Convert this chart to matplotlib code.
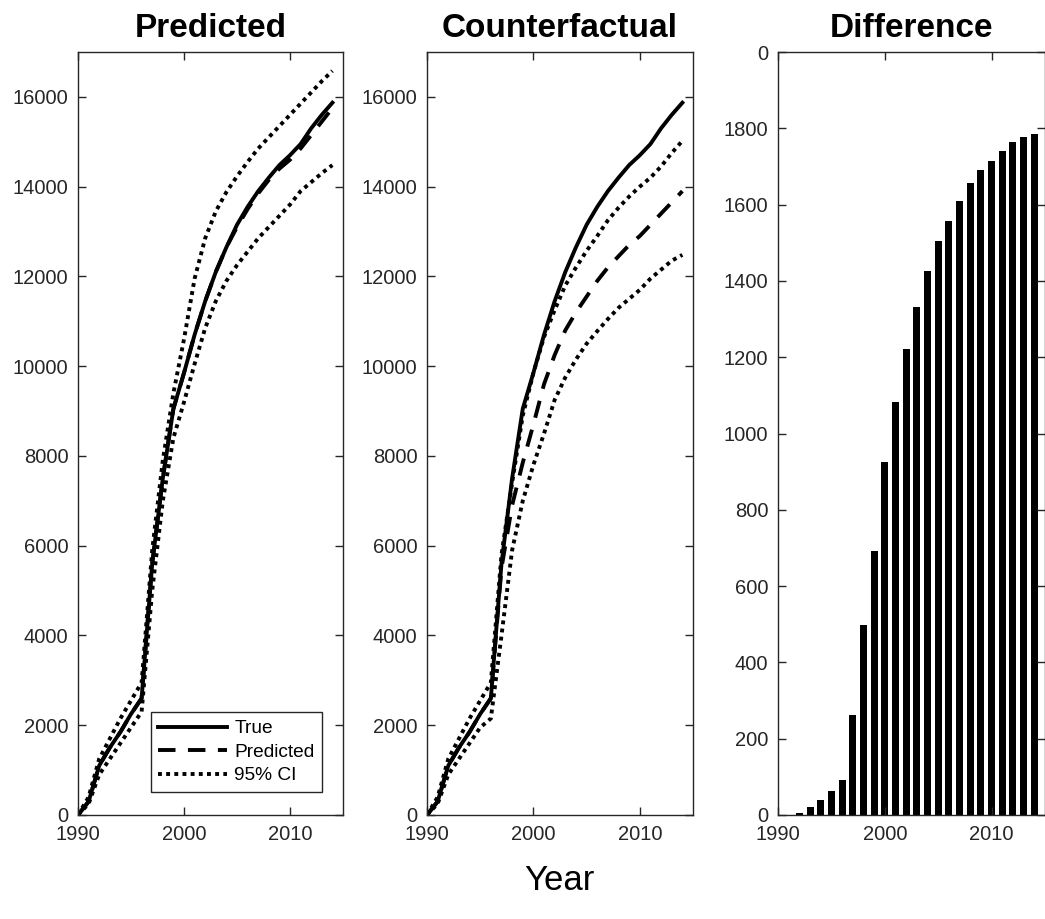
import matplotlib
matplotlib.use("Agg")
import matplotlib.pyplot as plt
import numpy as np

plt.rcParams["font.family"] = ["Liberation Sans", "DejaVu Sans"]

# values
years = list(range(1990, 2015))

true_vals = [0, 300, 1100, 1500, 1850, 2250, 2600, 5600, 7500, 9050, 9850, 10700,
             11450, 12100, 12650, 13150, 13550, 13900, 14200, 14480, 14700, 14950,
             15300, 15600, 15870]

pred_vals = [0, 300, 1100, 1500, 1850, 2250, 2600, 5600, 7500, 9050, 9850, 10700,
             11450, 12100, 12650, 13100, 13500, 13850, 14150, 14400, 14600, 14850,
             15150, 15450, 15750]
pred_upper = [0, 400, 1250, 1700, 2150, 2550, 2950, 5900, 7900, 9400, 10600, 11950,
              12850, 13450, 13880, 14230, 14550, 14850, 15100, 15350, 15600, 15850,
              16100, 16350, 16580]
pred_lower = [0, 250, 900, 1250, 1600, 1950, 2300, 5000, 7000, 8400, 9200, 10050,
              10850, 11450, 11900, 12250, 12550, 12850, 13100, 13350, 13600, 13900,
              14100, 14300, 14480]

cf_vals = [0, 300, 1100, 1500, 1850, 2250, 2600, 5500, 6900, 7850, 8700, 9600,
           10250, 10800, 11200, 11550, 11900, 12200, 12450, 12700, 12900, 13150,
           13400, 13650, 13900]
cf_upper = [0, 400, 1250, 1700, 2150, 2550, 2950, 5800, 7400, 8900, 9850, 10650,
            11250, 11800, 12200, 12570, 12900, 13250, 13530, 13780, 14000, 14200,
            14450, 14750, 15020]
cf_lower = [0, 250, 900, 1250, 1600, 1950, 2150, 4000, 5900, 7000, 7800, 8500,
            9250, 9750, 10150, 10500, 10780, 11050, 11300, 11500, 11700, 11950,
            12150, 12350, 12480]

diff_years = list(range(1992, 2015))
diff_vals = [4, 21, 40, 63, 91, 261, 497, 692, 924, 1083, 1222, 1332, 1426, 1504,
             1558, 1610, 1656, 1690, 1715, 1740, 1763, 1778, 1786]

titles = ["Predicted", "Counterfactual", "Difference"]

W, H = 1045, 919
fig = plt.figure(figsize=(W / 100, H / 100), dpi=100)

lw = 2.8
solid = dict(color="black", lw=lw, linestyle="-")
dashed = dict(color="black", lw=lw, linestyle=(0, (4.5, 3.2)), dash_capstyle="butt")
dotted = dict(color="black", lw=lw, linestyle=(0, (1, 1.1)), dash_capstyle="butt")

grey = "#262626"


def make_axes(left_px, width_px):
    ax = fig.add_axes([left_px / W, (H - 815) / H, width_px / W, 763 / H])
    for s in ax.spines.values():
        s.set_color(grey)
        s.set_linewidth(1.0)
    ax.tick_params(direction="in", length=5.5, width=1.0, color=grey,
                   labelcolor=grey, labelsize=14.5, pad=7,
                   top=True, right=True)
    return ax


ax1 = make_axes(78, 265)
ax2 = make_axes(427, 266)
ax3 = make_axes(778, 267)

ax1.plot(years, true_vals, label="True", **solid)
ax1.plot(years, pred_vals, label="Predicted", **dashed)
ax1.plot(years, pred_upper, label="95% CI", **dotted)
ax1.plot(years, pred_lower, **dotted)

ax2.plot(years, true_vals, **solid)
ax2.plot(years, cf_vals, **dashed)
ax2.plot(years, cf_upper, **dotted)
ax2.plot(years, cf_lower, **dotted)

for ax in (ax1, ax2):
    ax.set_xlim(1990, 2015)
    ax.set_ylim(0, 17000)
    ax.set_yticks(range(0, 16001, 2000))

ax3.bar(diff_years, diff_vals, width=0.65, color="black")
ax3.set_xlim(1990, 2015)
ax3.set_ylim(0, 2000)
yt = list(range(0, 2001, 200))
ax3.set_yticks(yt)
ax3.set_yticklabels([str(v) for v in yt[:-1]] + ["0"])

for ax, t in zip((ax1, ax2, ax3), titles):
    ax.set_xticks([1990, 2000, 2010])
    ax.set_title(t, fontsize=24, fontweight="bold", pad=11)

leg = ax1.legend(loc="lower right", bbox_to_anchor=(0.921, 0.030),
                 borderaxespad=0, fontsize=13.8, handlelength=3.6,
                 handletextpad=0.35, labelspacing=0.32, borderpad=0.4,
                 fancybox=False, framealpha=1)
leg.get_frame().set_edgecolor(grey)
leg.get_frame().set_linewidth(1.0)

fig.text(0.535, (H - 880) / H, "Year", fontsize=25, ha="center", va="center")

fig.savefig("out.png", dpi=100)
